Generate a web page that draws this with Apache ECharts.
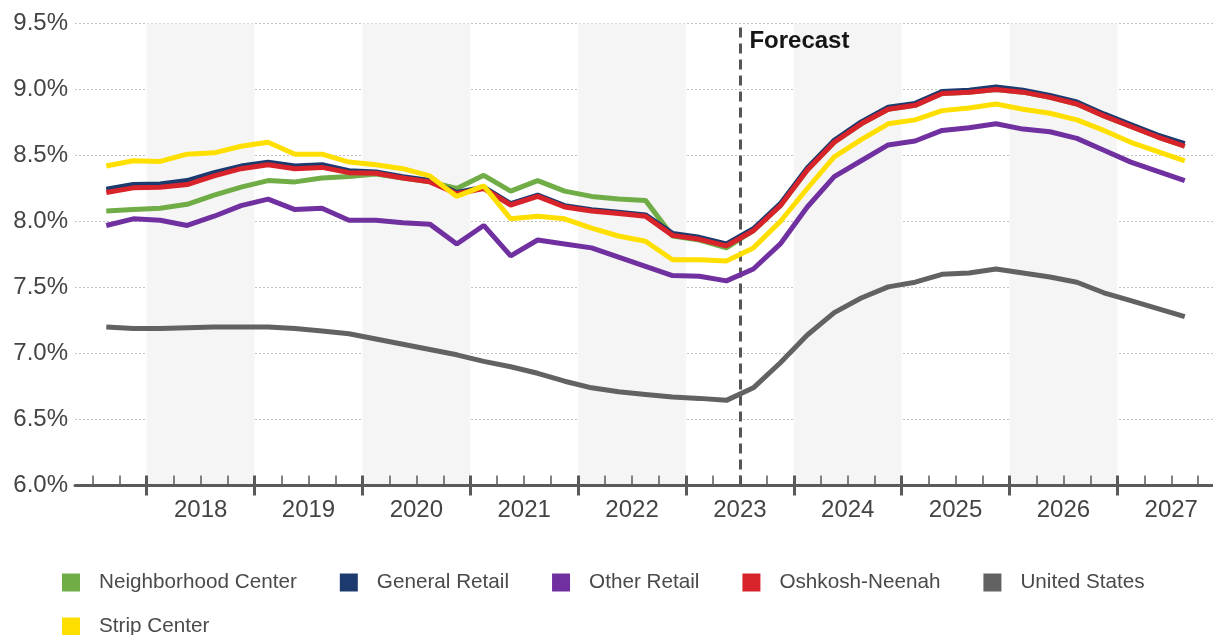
<!DOCTYPE html>
<html><head><meta charset="utf-8">
<script src="https://cdn.jsdelivr.net/npm/echarts@6/dist/echarts.min.js"></script>
<style>html,body{margin:0;padding:0;background:#fff}#c{width:1213px;height:635px}</style>
</head><body><div id="c"></div>
<script>
// ---- data ----
const firstPeriod = 2017.625;           // 2017 Q3 (quarter centre)
const quarterStep = 0.25;
const yearLabels = ['2018','2019','2020','2021','2022','2023','2024','2025','2026','2027'];
const shadedYears = [2018, 2020, 2022, 2024, 2026];
const forecastStart = 2023.5;
const yTicks = [6.0, 6.5, 7.0, 7.5, 8.0, 8.5, 9.0, 9.5];

const neighborhoodCenter = [8.08,8.09,8.10,8.13,8.20,8.26,8.31,8.30,8.33,8.34,8.36,8.33,8.30,8.25,8.35,8.23,8.31,8.23,8.19,8.17,8.16,7.89,7.86,7.80,
  7.93,8.12,8.39,8.60,8.74,8.85,8.88,8.97,8.98,9.00,8.98,8.94,8.89,8.80,8.72,8.64,8.57];
const generalRetail = [8.245,8.28,8.285,8.31,8.37,8.42,8.45,8.42,8.43,8.385,8.375,8.34,8.31,8.22,8.26,8.135,8.20,8.12,8.09,8.07,8.05,7.91,7.88,7.83,
  7.945,8.135,8.405,8.615,8.755,8.865,8.895,8.985,8.995,9.02,8.995,8.955,8.905,8.815,8.735,8.655,8.59];
const otherRetail = [7.97,8.02,8.01,7.97,8.04,8.12,8.17,8.09,8.10,8.01,8.01,7.99,7.98,7.83,7.97,7.74,7.86,7.83,7.80,7.73,7.66,7.59,7.585,7.55,
  7.64,7.83,8.11,8.34,8.46,8.58,8.61,8.69,8.71,8.74,8.70,8.68,8.63,8.54,8.45,8.38,8.31];
const oshkoshNeenah = [8.22,8.255,8.26,8.28,8.345,8.40,8.43,8.40,8.41,8.37,8.365,8.33,8.30,8.21,8.25,8.125,8.19,8.11,8.08,8.06,8.04,7.895,7.865,7.815,
  7.93,8.12,8.39,8.60,8.74,8.85,8.88,8.97,8.98,9.00,8.98,8.94,8.89,8.80,8.72,8.64,8.57];
const unitedStates = [7.20,7.19,7.19,7.195,7.20,7.20,7.20,7.19,7.17,7.15,7.11,7.07,7.03,6.99,6.94,6.90,6.85,6.79,6.74,6.71,6.69,6.67,6.66,6.645,
  6.74,6.93,7.14,7.31,7.42,7.505,7.54,7.60,7.61,7.64,7.61,7.58,7.54,7.46,7.40,7.34,7.28];
const stripCenter = [8.42,8.46,8.455,8.51,8.52,8.57,8.60,8.51,8.51,8.45,8.43,8.40,8.345,8.19,8.27,8.02,8.04,8.02,7.95,7.89,7.85,7.71,7.71,7.70,
  7.80,8.00,8.25,8.49,8.62,8.74,8.77,8.84,8.86,8.89,8.85,8.82,8.77,8.69,8.60,8.53,8.46];

// ---- build ----
const seriesDefs = [
  {name:'Neighborhood Center', data:neighborhoodCenter, color:'#70ad47'},
  {name:'General Retail', data:generalRetail, color:'#1c3a6e'},
  {name:'Other Retail', data:otherRetail, color:'#7030a0'},
  {name:'Oshkosh-Neenah', data:oshkoshNeenah, color:'#d9232a'},
  {name:'United States', data:unitedStates, color:'#626262'},
  {name:'Strip Center', data:stripCenter, color:'#ffdf00'}
];
const xOf = i => firstPeriod + i * quarterStep;
const yearNums = yearLabels.map(Number);
const majorTicks = yearNums.slice();
const minorTicks = [];
for (let y = yearNums[0] - 1; y <= yearNums[yearNums.length - 1]; y++) {
  [0.25, 0.5, 0.75].forEach(f => minorTicks.push(y + f));
}
const labelPos = yearNums.map(y => y + 0.5);
const FONT = '"Liberation Sans", Arial, Helvetica, sans-serif';
const AX = '#5a5a5a';
const xMin = 2017.335, xMax = 2027.887;

const baseX = {type:'value', min:xMin, max:xMax, position:'bottom', splitLine:{show:false}, z:20};
const xAxes = [
  Object.assign({}, baseX, {
    axisLine:{show:true, onZero:false, lineStyle:{color:AX, width:3}},
    axisTick:{show:true, inside:true, length:10, lineStyle:{color:AX, width:1.5}, customValues:minorTicks},
    axisLabel:{show:true, customValues:labelPos, margin:13, fontSize:24, color:'#444', fontFamily:FONT,
      formatter: v => String(Math.floor(v))}
  }),
  Object.assign({}, baseX, {
    axisLine:{show:false}, axisLabel:{show:false},
    axisTick:{show:true, inside:false, length:10, lineStyle:{color:AX, width:3}, customValues:majorTicks}
  }),
  Object.assign({}, baseX, {
    axisLine:{show:false}, axisLabel:{show:false},
    axisTick:{show:true, inside:true, length:10, lineStyle:{color:AX, width:3}, customValues:majorTicks}
  })
];

const series = seriesDefs.map((s, k) => {
  const o = {
    name:s.name, type:'line', xAxisIndex:0, showSymbol:false, symbol:'none',
    data:s.data.map((v, i) => [xOf(i), v]),
    lineStyle:{width:5, color:s.color}, itemStyle:{color:s.color},
    z: 3 + k, animation:false
  };
  if (k === 0) {
    o.markArea = {silent:true, itemStyle:{color:'#f5f5f5'},
      data: shadedYears.map(y => [{xAxis:y}, {xAxis:y + 1}])};
    o.markLine = {silent:true, symbol:'none', animation:false,
      lineStyle:{type:[10,6], color:'#555', width:3},
      label:{show:false}, data:[{xAxis:forecastStart}]};
    o.markPoint = {silent:true, symbol:'rect', symbolSize:1, itemStyle:{color:'rgba(0,0,0,0)'},
      label:{show:true, formatter:'Forecast', position:[10, 6], fontSize:24, fontWeight:'bold',
        color:'#151515', fontFamily:FONT},
      data:[{coord:[forecastStart, yTicks[yTicks.length - 1]]}]};
  }
  return o;
});

const legendCommon = {
  icon:'rect', itemWidth:18, itemHeight:18, itemGap:43, left:57, orient:'horizontal',
  textStyle:{fontSize:20.7, color:'#4a4a4a', fontFamily:FONT, padding:[0,0,0,14]},
  selectedMode:false
};

const option = {
  animation:false,
  backgroundColor:'#fff',
  grid:{left:75, right:0, top:23.5, bottom:149.5, containLabel:false},
  xAxis:xAxes,
  yAxis:{type:'value', min:yTicks[0], max:yTicks[yTicks.length - 1], interval:0.5,
    axisLine:{show:false}, axisTick:{show:false},
    axisLabel:{fontSize:24, color:'#444', margin:7, fontFamily:FONT, formatter:v => v.toFixed(1) + '%'},
    splitLine:{show:true, lineStyle:{type:[2,2], color:'#c4c4c4', width:1}}},
  legend:[
    Object.assign({}, legendCommon, {top:567, data:seriesDefs.slice(0,5).map(s => s.name)}),
    Object.assign({}, legendCommon, {top:611, data:[seriesDefs[5].name]})
  ],
  series:series
};
const chart = echarts.init(document.getElementById('c'), null, {renderer:'canvas'});
chart.setOption(option);
</script></body></html>
